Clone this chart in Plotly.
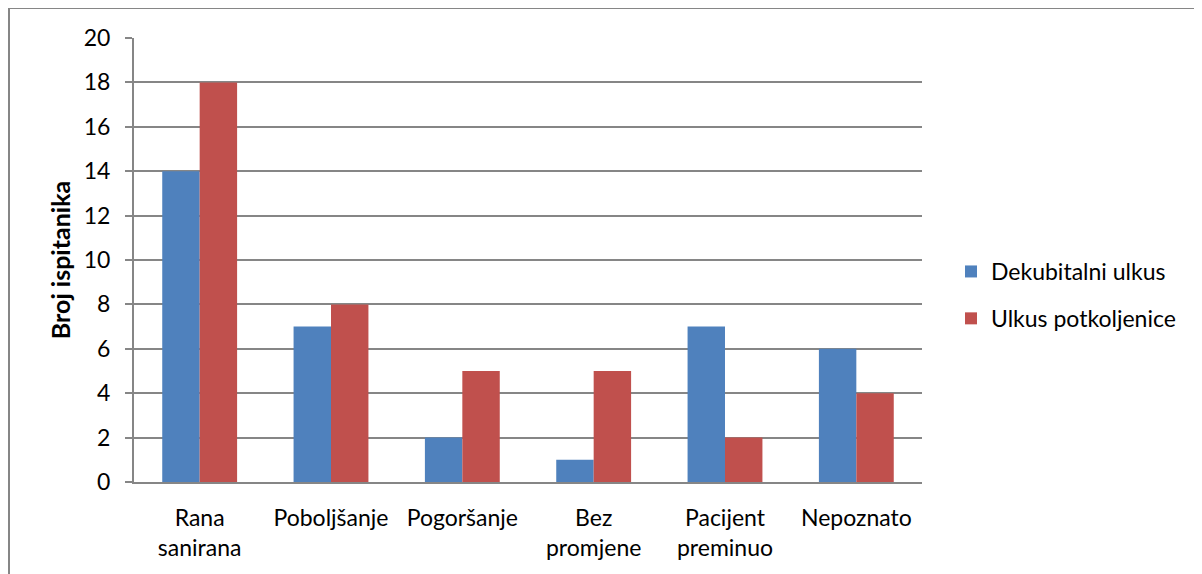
import plotly.graph_objects as go

categories = ["Rana<br>sanirana", "Poboljšanje", "Pogoršanje", "Bez<br>promjene", "Pacijent<br>preminuo", "Nepoznato"]
dekubitalni = [14, 7, 2, 1, 7, 6]
potkoljenice = [18, 8, 5, 5, 2, 4]
y_ticks = list(range(0, 21, 2))

FONT = "Lato, Carlito, Calibri, sans-serif"
FS = 23

fig = go.Figure()
fig.add_trace(go.Bar(name="Dekubitalni ulkus", x=categories, y=dekubitalni, legendgroup="a",
                     marker=dict(color="#4F81BD", line=dict(width=0))))
fig.add_trace(go.Bar(name="Ulkus potkoljenice", x=categories, y=potkoljenice, legendgroup="b",
                     marker=dict(color="#C0504D", line=dict(width=0))))

# page is offset by 8px body margin
OFF = 8
W, H = 1202 - OFF, 574 - OFF
L, T = 134 - OFF, 38 - OFF
R = W - (922 - OFF)
B = H - (482 - OFF)
pw = W - L - R
ph = H - T - B

def px_x(x):
    return (x - OFF - L) / pw

def px_y(y):
    return (482 - y) / ph

fig.update_layout(
    width=W, height=H,
    margin=dict(l=L, r=R, t=T, b=B),
    barmode="group", bargap=0.43, bargroupgap=0,
    paper_bgcolor="white", plot_bgcolor="white",
    font=dict(family=FONT, size=FS, color="#000000"),
    showlegend=True,
    legend=dict(x=px_x(951), y=px_y(250), xanchor="left", yanchor="top",
                font=dict(size=FS), itemsizing="constant", tracegroupgap=14,
                bgcolor="rgba(0,0,0,0)"),
    xaxis=dict(showline=True, linecolor="#868686", linewidth=2, ticks="",
               tickfont=dict(size=FS), showgrid=False, ticklabelstandoff=14),
    yaxis=dict(range=[0, 20], tickvals=y_ticks, showgrid=True, gridcolor="#868686",
               gridwidth=1.5, showline=True, linecolor="#868686", linewidth=2,
               ticks="outside", ticklen=7, tickcolor="#868686", tickwidth=1.5,
               tickfont=dict(size=FS), zeroline=False, ticklabelstandoff=10,
               title=dict(text="<b>Broj ispitanika</b>", font=dict(size=25), standoff=6)),
    shapes=[dict(type="rect", xref="paper", yref="paper",
                 x0=px_x(9), x1=px_x(1215),
                 y0=px_y(600), y1=px_y(8),
                 line=dict(color="#868686", width=2), fillcolor="rgba(0,0,0,0)", layer="below")],
)

fig.write_html("out.html")
